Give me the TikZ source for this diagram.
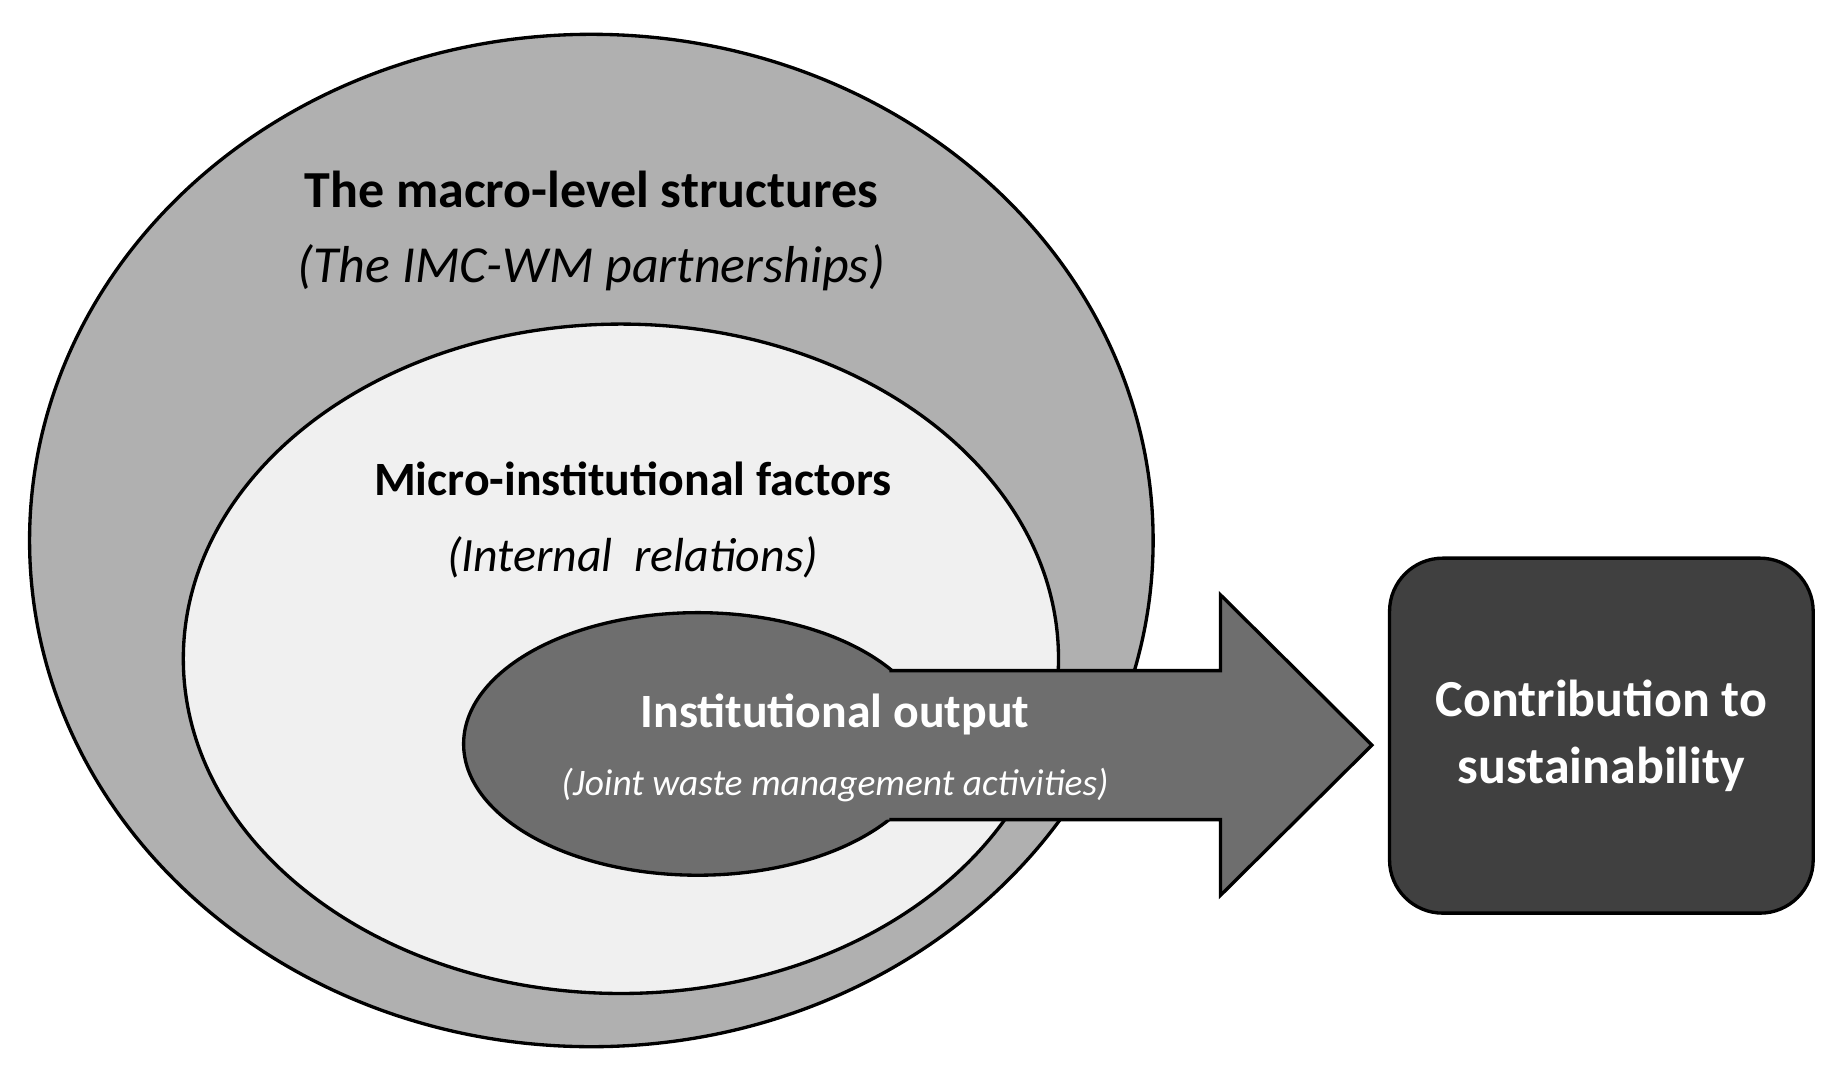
\documentclass[tikz,border=0pt]{standalone}
\usepackage{fontspec}
\setmainfont{Carlito}
\usetikzlibrary{positioning}
\definecolor{macrogray}{HTML}{B0B0B0}
\definecolor{microgray}{HTML}{F0F0F0}
\definecolor{outputgray}{HTML}{6E6E6E}
\definecolor{boxgray}{HTML}{404040}
\tikzset{
  title/.style={font=\bfseries\fontsize{12.5}{14}\selectfont, align=center},
  sub/.style={font=\itshape\fontsize{12.5}{14}\selectfont, align=center},
  light/.style={text=white}
}
\begin{document}
\begin{tikzpicture}[x=0.01cm,y=-0.01cm,line width=0.8pt]
  \useasboundingbox (0,0) rectangle (1560,908);

  % nested ellipses
  \draw[fill=macrogray] (500,457) ellipse [x radius=475, y radius=428];
  \draw[fill=microgray] (525,557) ellipse [x radius=370, y radius=283];
  \draw[fill=outputgray] (590,629) ellipse [x radius=198, y radius=111];

  % arrow
  \fill[outputgray] (700,567) -- (1032,567) -- (1032,503) -- (1160,630)
    -- (1032,757) -- (1032,693) -- (700,693) -- cycle;
  \draw (752,567) -- (1032,567) -- (1032,503) -- (1160,630)
    -- (1032,757) -- (1032,693) -- (752,693);

  % box
  \node[draw, fill=boxgray, rounded corners=0.45cm, minimum width=3.58cm,
        minimum height=3cm, title, light] (contrib) at (1354,622)
        {Contribution to\\[2pt]sustainability};

  % labels
  \node[title] (macro) at (500,160) {The macro-level structures};
  \node[sub, below=0.05cm of macro] (macrosub) {(The IMC-WM partnerships)};
  \node[title, font=\bfseries\fontsize{11.5}{13}\selectfont] (micro) at (535,405) {Micro-institutional factors};
  \node[sub, font=\itshape\fontsize{11.5}{13}\selectfont, below=0.08cm of micro] (microsub) {(Internal~ relations)};
  \node[title, font=\bfseries\fontsize{11.5}{13}\selectfont, light] (output) at (706,604) {Institutional output};
  \node[sub, font=\itshape\fontsize{9}{11}\selectfont, light, below=0.02cm of output] (outputsub) {(Joint waste management activities)};
\end{tikzpicture}
\end{document}
